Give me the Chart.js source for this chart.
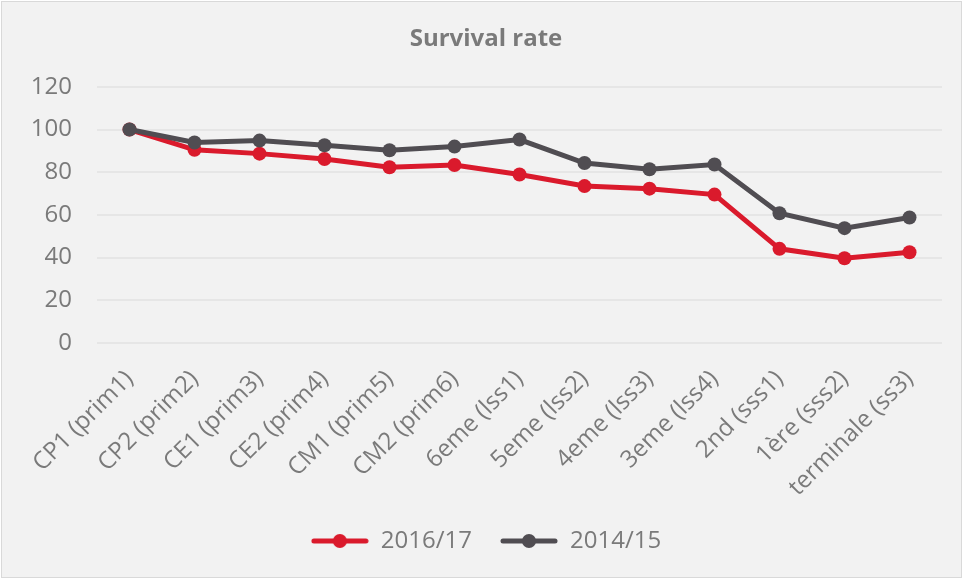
<!DOCTYPE html>
<html>
<head>
<meta charset="utf-8">
<script src="https://cdn.jsdelivr.net/npm/chart.js@4/dist/chart.umd.min.js"></script>
<style>
    html, body { margin: 0; padding: 0; background: #ffffff; }
    #frame {
        position: absolute; left: 1px; top: 1px; width: 959px; height: 575px;
        border: 1px solid #d9d9d9; background: #f2f2f2;
    }
    #wrap { position: absolute; left: 0; top: 0; width: 963px; height: 579px; }
</style>
</head>
<body>
<div id="frame"></div>
<div id="wrap"><canvas id="survivalChart"></canvas></div>
<script>
const grades = ["CP1 (prim1)", "CP2 (prim2)", "CE1 (prim3)", "CE2 (prim4)", "CM1 (prim5)", "CM2 (prim6)",
    "6eme (lss1)", "5eme (lss2)", "4eme (lss3)", "3eme (lss4)", "2nd (sss1)", "1ère (sss2)", "terminale (ss3)"];
const rate2016 = [100, 90.5, 88.7, 86.2, 82.3, 83.4, 78.9, 73.5, 72.3, 69.5, 44.1, 39.7, 42.5];
const rate2014 = [100, 93.9, 94.8, 92.6, 90.3, 92.0, 95.3, 84.3, 81.4, 83.6, 60.8, 53.8, 58.8];
const yTicks = [0, 20, 40, 60, 80, 100, 120];

const RED = "#da1a2c";
const GREY = "#504d52";
const TEXT = "#7a7a7a";
const FONT = "'Open Sans', 'Noto Sans', sans-serif";

// little line-with-dot icon for the legend
function legendIcon(color) {
    const c = document.createElement("canvas");
    c.width = 58;
    c.height = 16;
    const g = c.getContext("2d");
    g.strokeStyle = color;
    g.lineWidth = 5;
    g.lineCap = "round";
    g.beginPath();
    g.moveTo(3, 8);
    g.lineTo(55, 8);
    g.stroke();
    g.fillStyle = color;
    g.beginPath();
    g.arc(29, 8, 7, 0, Math.PI * 2);
    g.fill();
    return c;
}
const icons = [legendIcon(RED), legendIcon(GREY)];

document.addEventListener("DOMContentLoaded", () => {
    const ctx = document.getElementById("survivalChart").getContext("2d");

    new Chart(ctx, {
        type: "line",
        data: {
            labels: grades,
            datasets: [
                {
                    label: "2016/17",
                    data: rate2016,
                    borderColor: RED,
                    backgroundColor: RED,
                    borderWidth: 5,
                    pointRadius: 7,
                    pointBorderWidth: 0,
                    pointBackgroundColor: RED,
                    order: 1,
                },
                {
                    label: "2014/15",
                    data: rate2014,
                    borderColor: GREY,
                    backgroundColor: GREY,
                    borderWidth: 5,
                    pointRadius: 7,
                    pointBorderWidth: 0,
                    pointBackgroundColor: GREY,
                    order: 0,
                },
            ],
        },
        options: {
            responsive: true,
            maintainAspectRatio: false,
            animation: false,
            layout: { padding: { left: 30, right: 21, top: 0, bottom: 16 } },
            plugins: {
                title: {
                    display: true,
                    text: "Survival rate",
                    color: TEXT,
                    font: { family: FONT, size: 24, weight: "bold" },
                    padding: { top: 25, bottom: 33 },
                },
                legend: {
                    display: true,
                    position: "bottom",
                    labels: {
                        color: TEXT,
                        font: { family: FONT, size: 24 },
                        usePointStyle: true,
                        pointStyleWidth: 58,
                        boxHeight: 16,
                        padding: 28,
                        sort: (a, b) => a.datasetIndex - b.datasetIndex,
                        generateLabels: (chart) => {
                            const items = Chart.defaults.plugins.legend.labels.generateLabels(chart);
                            items.forEach((it) => { it.pointStyle = icons[it.datasetIndex]; });
                            return items;
                        },
                    },
                },
                tooltip: { enabled: false },
            },
            scales: {
                x: {
                    offset: true,
                    grid: { display: false, drawTicks: false },
                    border: { display: false },
                    ticks: {
                        color: TEXT,
                        font: { family: FONT, size: 24 },
                        minRotation: 45,
                        maxRotation: 45,
                        padding: 22,
                        autoSkip: false,
                    },
                    afterFit: (scale) => { scale.height = 158; },
                },
                y: {
                    min: 0,
                    max: 120,
                    grid: { color: "#e6e6e6", lineWidth: 2, drawTicks: false },
                    border: { display: false },
                    afterBuildTicks: (scale) => { scale.ticks = yTicks.map((v) => ({ value: v })); },
                    ticks: {
                        color: TEXT,
                        font: { family: FONT, size: 24 },
                        padding: 25,
                    },
                    afterFit: (scale) => { scale.width = 67; },
                },
            },
        },
    });
});
</script>
</body>
</html>
